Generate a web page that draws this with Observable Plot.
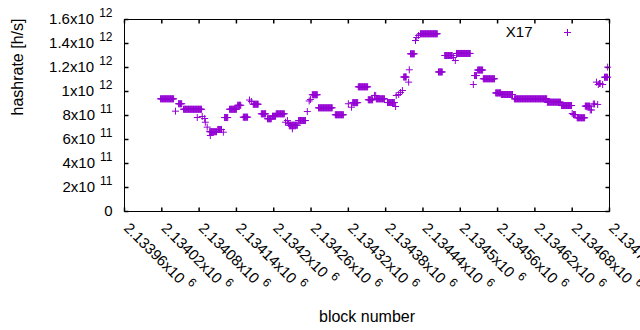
<!DOCTYPE html>
<html>
<head>
<meta charset="utf-8">
<script src="https://cdn.jsdelivr.net/npm/d3@7"></script>
<script src="https://cdn.jsdelivr.net/npm/@observablehq/plot@0.6"></script>
<style>
  html, body { margin: 0; padding: 0; background: #fff; }
  #chart { width: 640px; height: 330px; overflow: hidden; }
</style>
</head>
<body>
<div id="chart"></div>
<script>
// ---- data ----
// runs of consecutive blocks that share one hashrate value
const runStart = [2134018, 2134047, 2134055, 2134097, 2134110, 2134121, 2134129, 2134142, 2134151, 2134167,
  2134180, 2134190, 2134198, 2134204, 2134225, 2134240, 2134262, 2134272, 2134299, 2134327,
  2134336, 2134352, 2134365, 2134383, 2134409, 2134420, 2134436, 2134465, 2134475, 2134494,
  2134523, 2134528, 2134537, 2134557, 2134566, 2134587, 2134640, 2134663, 2134682, 2134688,
  2134701, 2134732];
const runEnd = [2134039, 2134052, 2134084, 2134108, 2134116, 2134126, 2134140, 2134147, 2134158, 2134175,
  2134187, 2134196, 2134203, 2134217, 2134238, 2134251, 2134270, 2134294, 2134312, 2134335,
  2134351, 2134359, 2134378, 2134394, 2134413, 2134426, 2134463, 2134471, 2134487, 2134516,
  2134526, 2134536, 2134555, 2134565, 2134584, 2134639, 2134661, 2134679, 2134685, 2134700,
  2134708, 2134737];
const runValue = [9.39e11, 8.98e11, 8.52e11, 6.65e11, 6.83e11, 7.83e11, 8.52e11, 8.85e11, 7.86e11, 8.94e11,
  8.14e11, 7.73e11, 7.94e11, 8.14e11, 7.19e11, 7.58e11, 9.73e11, 8.64e11, 8.06e11, 9.07e11,
  1.039e12, 9.31e11, 9.39e11, 9.08e11, 1.121e12, 1.314e12, 1.481e12, 1.163e12, 1.30e12, 1.317e12,
  1.133e12, 1.179e12, 1.106e12, 9.88e11, 9.75e11, 9.39e11, 9.11e11, 8.83e11, 8.08e11, 7.81e11,
  8.78e11, 1.119e12];
// single blocks
const pointBlock = [2134042, 2134077, 2134085, 2134089, 2134090, 2134093, 2134098, 2134119, 2134161, 2134164,
  2134219, 2134222, 2134224, 2134230, 2134254, 2134257, 2134259, 2134320, 2134325, 2134362,
  2134364, 2134396, 2134397, 2134401, 2134404, 2134407, 2134417, 2134418, 2134428, 2134430,
  2134433, 2134489, 2134492, 2134521, 2134680, 2134709, 2134711, 2134714, 2134716, 2134719,
  2134721, 2134722, 2134724, 2134725, 2134729, 2134737];
const pointValue = [8.36e11, 7.83e11, 7.92e11, 7.75e11, 7.44e11, 7.03e11, 6.33e11, 6.61e11, 9.29e11, 9.17e11,
  7.44e11, 7.58e11, 7.33e11, 6.89e11, 8.33e11, 9.21e11, 9.33e11, 8.98e11, 8.69e11, 9.67e11,
  9.67e11, 8.75e11, 9.67e11, 9.75e11, 9.92e11, 1.008e12, 1.078e12, 1.181e12, 1.425e12, 1.45e12,
  1.467e12, 1.283e12, 1.258e12, 1.058e12, 8.17e11, 8.46e11, 8.46e11, 8.96e11, 8.96e11, 1.078e12,
  8.92e11, 1.058e12, 1.067e12, 1.067e12, 1.058e12, 1.203e12];

const seriesName = "X17";
const xTicks = [2133960, 2134020, 2134080, 2134140, 2134200, 2134260, 2134320, 2134380, 2134440, 2134500,
  2134560, 2134620, 2134680, 2134740];
const xTickLabels = ["2.13396x10^6", "2.13402x10^6", "2.13408x10^6", "2.13414x10^6", "2.1342x10^6",
  "2.13426x10^6", "2.13432x10^6", "2.13438x10^6", "2.13444x10^6", "2.1345x10^6", "2.13456x10^6",
  "2.13462x10^6", "2.13468x10^6", "2.13474x10^6"];
const yTicks = [0, 2e11, 4e11, 6e11, 8e11, 1e12, 1.2e12, 1.4e12, 1.6e12];
const yTickLabels = ["0", "2x10^11", "4x10^11", "6x10^11", "8x10^11", "1x10^12", "1.2x10^12", "1.4x10^12", "1.6x10^12"];
const xTitle = "block number";
const yTitle = "hashrate [h/s]";

// ---- build table: one row per block ----
const rows = [];
runStart.forEach((s, i) => { for (let b = s; b <= runEnd[i]; b++) rows.push({block: b, hashrate: runValue[i]}); });
pointBlock.forEach((b, i) => rows.push({block: b, hashrate: pointValue[i]}));

const xDomain = [xTicks[0], xTicks[xTicks.length - 1]];
const yDomain = [yTicks[0], yTicks[yTicks.length - 1]];
const purple = "#9400d3";

const plusSymbol = {draw(ctx, size) { const r = Math.sqrt(size / Math.PI); ctx.moveTo(-r, 0); ctx.lineTo(r, 0); ctx.moveTo(0, -r); ctx.lineTo(0, r); }};
const tickSym = (dx, dy) => ({draw(ctx) { ctx.moveTo(0, 0); ctx.lineTo(dx, dy); }});

const chart = Plot.plot({
  width: 640, height: 330,
  marginLeft: 124, marginRight: 31, marginTop: 19, marginBottom: 119,
  style: {fontFamily: "'Liberation Sans', Arial, sans-serif", fontSize: "15px", background: "#fff", color: "#000", overflow: "visible"},
  x: {domain: xDomain, axis: null},
  y: {domain: yDomain, axis: null},
  marks: [
    Plot.frame({stroke: "#000", strokeWidth: 1}),
    Plot.dot(yTicks, {x: () => xDomain[0], y: d => d, symbol: tickSym(4, 0), r: 1, stroke: "#000", fill: "none"}),
    Plot.dot(yTicks, {x: () => xDomain[1], y: d => d, symbol: tickSym(-4, 0), r: 1, stroke: "#000", fill: "none"}),
    Plot.dot(xTicks, {x: d => d, y: () => yDomain[0], symbol: tickSym(0, -4), r: 1, stroke: "#000", fill: "none"}),
    Plot.dot(xTicks, {x: d => d, y: () => yDomain[1], symbol: tickSym(0, 4), r: 1, stroke: "#000", fill: "none"}),
    Plot.text(yTicks, {x: () => xDomain[0], y: d => d, text: (d, i) => yTickLabels[i], textAnchor: "end", lineAnchor: "middle", dx: -12, fontSize: 15, fill: "#000"}),
    Plot.text(xTicks, {x: d => d, y: () => yDomain[0], text: (d, i) => xTickLabels[i], textAnchor: "start", lineAnchor: "middle", rotate: 45, dx: 2, dy: 14, fontSize: 15, fill: "#000"}),
    Plot.text([yTitle], {frameAnchor: "left", text: d => d, rotate: -90, lineAnchor: "middle", dx: -107, fontSize: 16, fill: "#000"}),
    Plot.text([xTitle], {frameAnchor: "bottom", text: d => d, lineAnchor: "middle", dy: 105, fontSize: 16, fill: "#000"}),
    Plot.dot(rows, {x: "block", y: "hashrate", symbol: plusSymbol, r: 3.5, stroke: purple, strokeWidth: 1, fill: "none"}),
    Plot.text([seriesName], {frameAnchor: "top-right", text: d => d, textAnchor: "end", lineAnchor: "middle", dx: -77, dy: 12.5, fontSize: 15, fill: "#000"}),
    Plot.dot([seriesName], {frameAnchor: "top-right", dx: -42, dy: 13, symbol: plusSymbol, r: 3.5, stroke: purple, strokeWidth: 1, fill: "none"})
  ]
});

// gnuplot-style superscripts: "a^b" -> a + raised smaller b
d3.select(chart).selectAll("text").each(function () {
  const s = this.textContent; const k = s.indexOf("^");
  if (k < 0) return;
  const el = d3.select(this);
  el.text(null);
  el.append("tspan").text(s.slice(0, k));
  el.append("tspan").attr("dx", 5).attr("dy", -7).attr("font-size", 12).text(s.slice(k + 1));
});

document.getElementById("chart").appendChild(chart);
</script>
</body>
</html>
